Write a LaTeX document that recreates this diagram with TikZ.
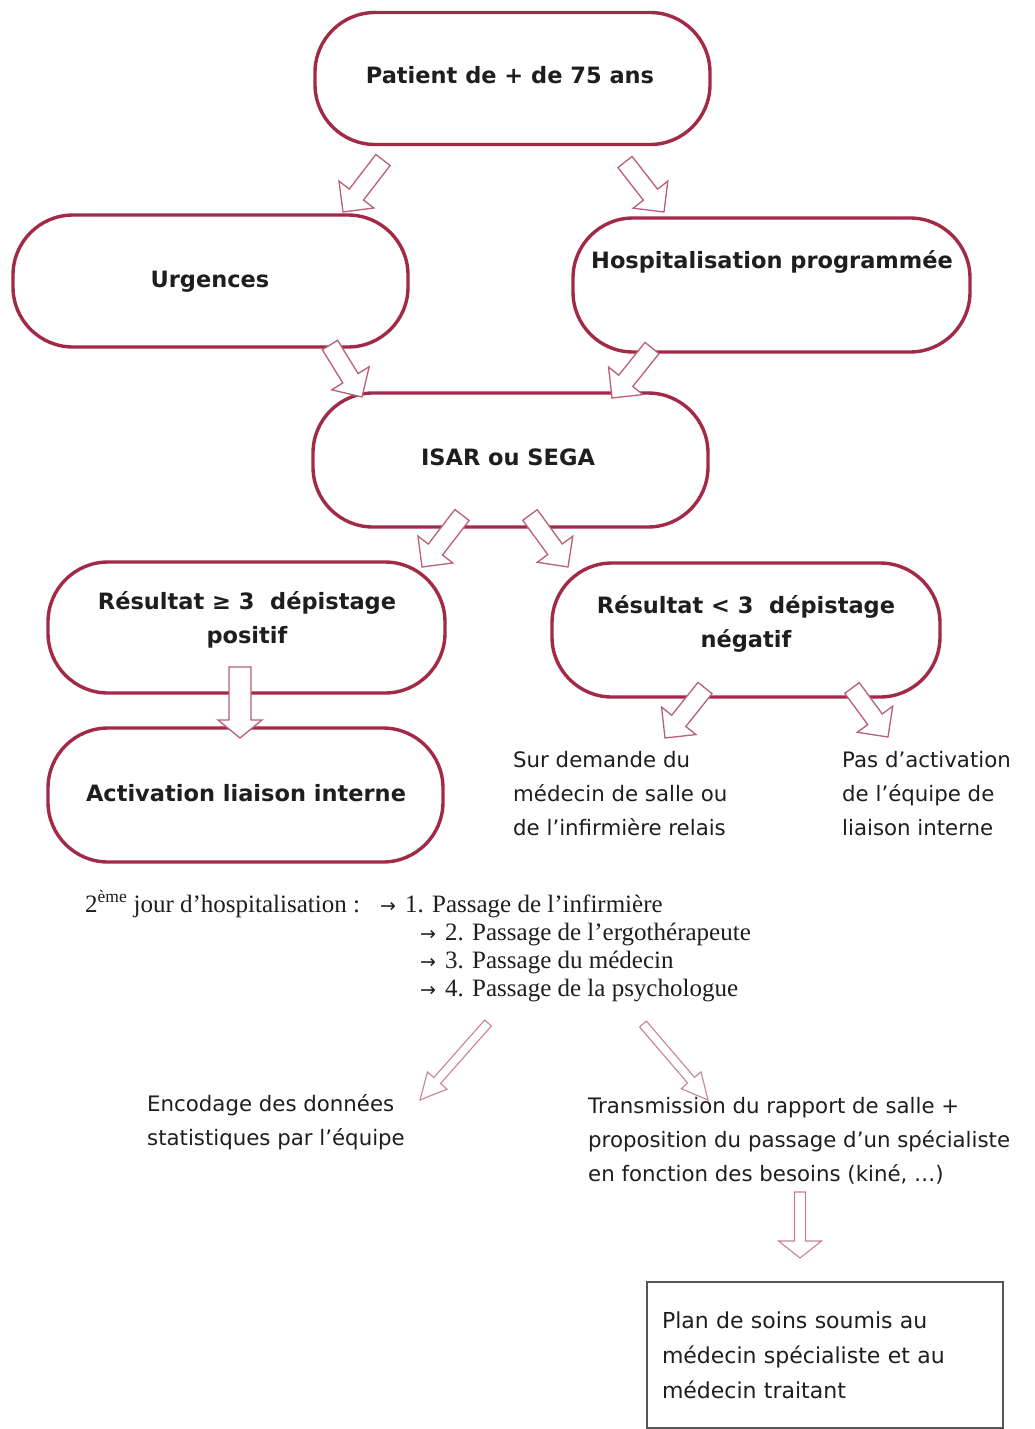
\documentclass[tikz,border=0pt]{standalone}
\usepackage{fontspec}
\setmainfont{DejaVu Sans}
\newfontfamily\serifjour{Liberation Serif}
\newfontfamily\arrowfont{DejaVu Sans}
\usetikzlibrary{calc}

\definecolor{pillred}{RGB}{162,42,70}
\definecolor{arrowred}{RGB}{185,95,118}
\definecolor{thinred}{RGB}{200,130,150}
\definecolor{boxgray}{RGB}{85,85,85}
\definecolor{ink}{RGB}{30,30,30}

% hollow block arrow: [style]{start}{tip}{shaft half-width}{head half-width}{head length}
\newcommand{\hollowarrow}[6][]{%
  \draw[barrow,#1]
    ($(#2)!#4!90:(#3)$) --
    ($(#3)!#6!(#2)!#4!90:(#3)$) --
    ($(#3)!#6!(#2)!#5!90:(#3)$) --
    (#3) --
    ($(#3)!#6!(#2)!#5!-90:(#3)$) --
    ($(#3)!#6!(#2)!#4!-90:(#3)$) --
    ($(#2)!#4!-90:(#3)$) -- cycle;}

\tikzset{
  pill/.style={draw=pillred, line width=3.4pt, fill=white, rounded corners=60pt,
    minimum width=395pt, minimum height=132pt, inner sep=0pt},
  pilltxt/.style={font=\bfseries\fontsize{22.5}{34}\selectfont, align=center, text=ink, inner sep=0pt},
  freetxt/.style={font=\fontsize{21.3}{34}\selectfont, align=left, anchor=west, text=ink, inner sep=0pt},
  jourtxt/.style={font=\serifjour\fontsize{25}{25}\selectfont, anchor=base west, text=ink, inner sep=0pt},
  barrow/.style={draw=arrowred, fill=white, line width=1.3pt, line join=miter},
  thinarrow/.style={draw=thinred, line width=1.1pt},
  planbox/.style={draw=boxgray, line width=2pt, minimum width=356pt, minimum height=146pt,
    text width=326pt, inner xsep=15pt, align=left, font=\fontsize{22}{35}\selectfont, text=ink},
}

\newcommand{\tarr}{{\arrowfont\fontsize{19}{19}\selectfont →}\hspace{9pt}}

\begin{document}
\begin{tikzpicture}[x=1pt,y=-1pt]
\useasboundingbox (0,0) rectangle (1035,1429);
\fill[white] (0,0) rectangle (1035,1429);

% rounded boxes
\node[pill] (pat)  at (512.5,78.5) {};
\node[pill] (urg)  at (210.5,281) {};
\node[pill, minimum width=397pt, minimum height=134pt] (hosp) at (771.5,285) {};
\node[pill, minimum height=134pt] (isar) at (510.5,460) {};
\node[pill, minimum width=397pt, minimum height=131pt] (rpos) at (246.5,627.5) {};
\node[pill, minimum height=134pt] (act)  at (245.5,795) {};
\node[pill, minimum width=388pt, minimum height=134pt] (rneg) at (746,630) {};

% box labels
\node[pilltxt] (patT)  at (510,75)  {Patient de + de 75 ans};
\node[pilltxt] (urgT)  at (210,282) {Urgences};
\node[pilltxt] (hospT) at (772,262) {Hospitalisation programmée};
\node[pilltxt] (isarT) at (508,457) {ISAR ou SEGA};
\node[pilltxt] (rposT) at (247,620) {Résultat ≥ 3~~dépistage\\positif};
\node[pilltxt] (actT)  at (246,793) {Activation liaison interne};
\node[pilltxt] (rnegT) at (746,623.5) {Résultat < 3~~dépistage\\négatif};

% free texts
\node[freetxt] (sur) at (513,794) {Sur demande du\\médecin de salle ou\\de l’infirmière relais};
\node[freetxt] (pas) at (842,794) {Pas d’activation\\de l’équipe de\\liaison interne};

% second-day visits
\node[jourtxt] (jour) at (85,912) {2\textsuperscript{ème} jour d’hospitalisation :};
\node[jourtxt] (p1) at (380,912) {\tarr 1. Passage de l’infirmière};
\node[jourtxt] (p2) at (420,940) {\tarr 2. Passage de l’ergothérapeute};
\node[jourtxt] (p3) at (420,968) {\tarr 3. Passage du médecin};
\node[jourtxt] (p4) at (420,996) {\tarr 4. Passage de la psychologue};

\node[freetxt] (enc) at (147,1122) {Encodage des données\\statistiques par l’équipe};
\node[freetxt] (trans) at (588,1141) {Transmission du rapport de salle +\\proposition du passage d’un spécialiste\\en fonction des besoins (kiné, …)};

\node[planbox] (plan) at (825,1355) {Plan de soins soumis au\\médecin spécialiste et au\\médecin traitant};

% arrow end points
\coordinate (a1s) at (383,160);  \coordinate (a1t) at (343,212);
\coordinate (a2s) at (625,162);  \coordinate (a2t) at (664,212);
\coordinate (a3s) at (330,345);  \coordinate (a3t) at (362,397);
\coordinate (a4s) at (652,348);  \coordinate (a4t) at (612,398);
\coordinate (a5s) at (462,515);  \coordinate (a5t) at (422,567);
\coordinate (a6s) at (530,515);  \coordinate (a6t) at (568,567);
\coordinate (a7s) at (240,667);  \coordinate (a7t) at (240,738);
\coordinate (a8s) at (705,688);  \coordinate (a8t) at (665,738);
\coordinate (a9s) at (852,688);  \coordinate (a9t) at (888,737);
\coordinate (b1s) at (488,1023); \coordinate (b1t) at (420,1100);
\coordinate (b2s) at (643,1024); \coordinate (b2t) at (708,1100);
\coordinate (b3s) at (800,1192); \coordinate (b3t) at (800,1258);

% block arrows between boxes
\hollowarrow{a1s}{a1t}{9pt}{22pt}{22pt}
\hollowarrow{a2s}{a2t}{9pt}{22pt}{22pt}
\hollowarrow{a3s}{a3t}{9pt}{22pt}{22pt}
\hollowarrow{a4s}{a4t}{9pt}{22pt}{22pt}
\hollowarrow{a5s}{a5t}{9pt}{22pt}{22pt}
\hollowarrow{a6s}{a6t}{9pt}{22pt}{22pt}
\hollowarrow{a7s}{a7t}{11pt}{22pt}{18pt}
\hollowarrow{a8s}{a8t}{9pt}{22pt}{22pt}
\hollowarrow{a9s}{a9t}{9pt}{22pt}{22pt}

% thin arrows of the lower part
\hollowarrow[thinarrow]{b1s}{b1t}{4.5pt}{13pt}{26pt}
\hollowarrow[thinarrow]{b2s}{b2t}{4.5pt}{13pt}{26pt}
\hollowarrow[thinarrow]{b3s}{b3t}{5.5pt}{21.5pt}{17pt}
\end{tikzpicture}
\end{document}
